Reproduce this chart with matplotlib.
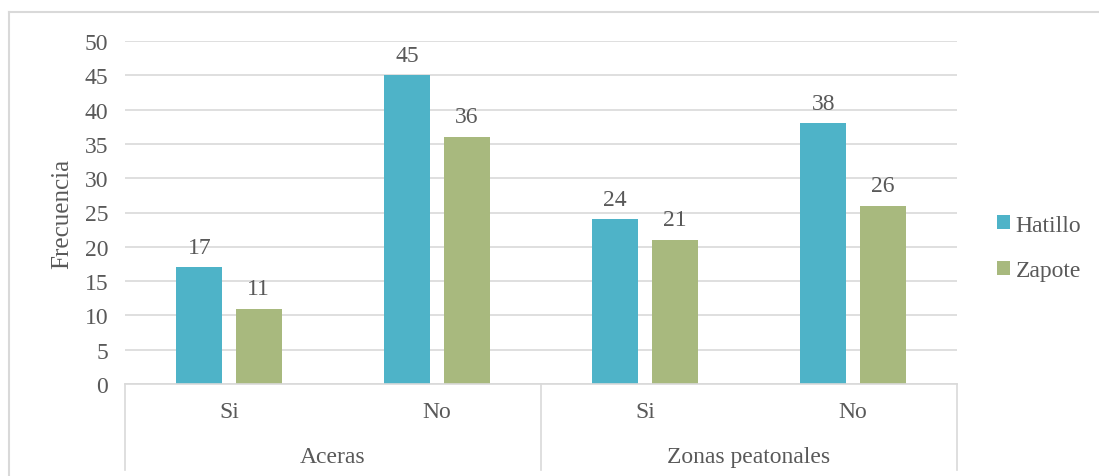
import matplotlib
matplotlib.use("Agg")
import matplotlib.pyplot as plt
import numpy as np
from matplotlib.transforms import blended_transform_factory
from matplotlib.lines import Line2D

groups = ["Aceras", "Zonas peatonales"]
subcats = ["Si", "No", "Si", "No"]
series_names = ["Hatillo", "Zapote"]
hatillo = [17, 45, 24, 38]
zapote = [11, 36, 21, 26]
yticks = [0, 5, 10, 15, 20, 25, 30, 35, 40, 45, 50]

colors = ["#4EB3C8", "#A8B97E"]
txt = "#595959"
grid = "#D9D9D9"
FS = 17
plt.rcParams["font.family"] = ["Liberation Serif", "DejaVu Serif"]

W, H = 1099, 477
fig = plt.figure(figsize=(W / 100, H / 100), dpi=100)
L, R, T, B = 125, 957, 42, 385
ax = fig.add_axes([L / W, (H - B) / H, (R - L) / W, (B - T) / H])

x = np.arange(len(subcats))
bw = 0.221
off = 0.143
for vals, c, sgn, name in zip([hatillo, zapote], colors, [-1, 1], series_names):
    bars = ax.bar(x + sgn * off, vals, width=bw, color=c, label=name, zorder=3)
    for rect, v in zip(bars, vals):
        ax.annotate(str(v), (rect.get_x() + rect.get_width() / 2, v),
                    xytext=(0, 7), textcoords="offset points", ha="center",
                    va="bottom", fontsize=FS, color=txt)

ax.set_xlim(-0.5, len(subcats) - 0.5)
ax.set_ylim(0, 50)
ax.set_yticks(yticks)
ax.set_yticklabels([str(t) for t in yticks], fontsize=FS, color=txt)
ax.tick_params(axis="y", length=0, pad=12)
ax.set_xticks([])
ax.grid(axis="y", color=grid, linewidth=1.2, zorder=0)
for s in ["top", "right", "left"]:
    ax.spines[s].set_visible(False)
ax.spines["bottom"].set_color(grid)
ax.spines["bottom"].set_linewidth(1.2)
ax.spines["bottom"].set_zorder(4)
ax.set_ylabel("Frecuencia", fontsize=18, color=txt, labelpad=8)

# category axis (two levels)
tr = blended_transform_factory(ax.transData, ax.transAxes)
ph = (B - T)
def ay(py):
    return (B - py) / ph
for xs in [-0.5, 1.5, 3.5]:
    ax.add_line(Line2D([xs, xs], [0, ay(471)], transform=tr, color=grid,
                       linewidth=1.2, clip_on=False))
for xi, lab in zip(x, subcats):
    ax.text(xi, ay(413), lab, transform=tr, ha="center", va="center",
            fontsize=FS, color=txt)
for gi, g in enumerate(groups):
    ax.text(gi * 2 + 0.5, ay(458), g, transform=tr, ha="center", va="center",
            fontsize=FS, color=txt)

# legend
leg = fig.legend(loc="center left", bbox_to_anchor=(985 / W, 1 - 249 / H),
                 frameon=False, fontsize=FS, handlelength=0.55, handleheight=0.55,
                 handletextpad=0.25, labelspacing=1.05, borderpad=0)
for t in leg.get_texts():
    t.set_color(txt)

# figure border
fig.add_artist(Line2D([8.5 / W, 1098 / W], [1 - 12.5 / H, 1 - 12.5 / H],
                      transform=fig.transFigure, color=grid, linewidth=1.5))
fig.add_artist(Line2D([8.5 / W, 8.5 / W], [0, 1 - 12.5 / H],
                      transform=fig.transFigure, color=grid, linewidth=1.5))

fig.savefig("out.png", dpi=100, facecolor="white")
